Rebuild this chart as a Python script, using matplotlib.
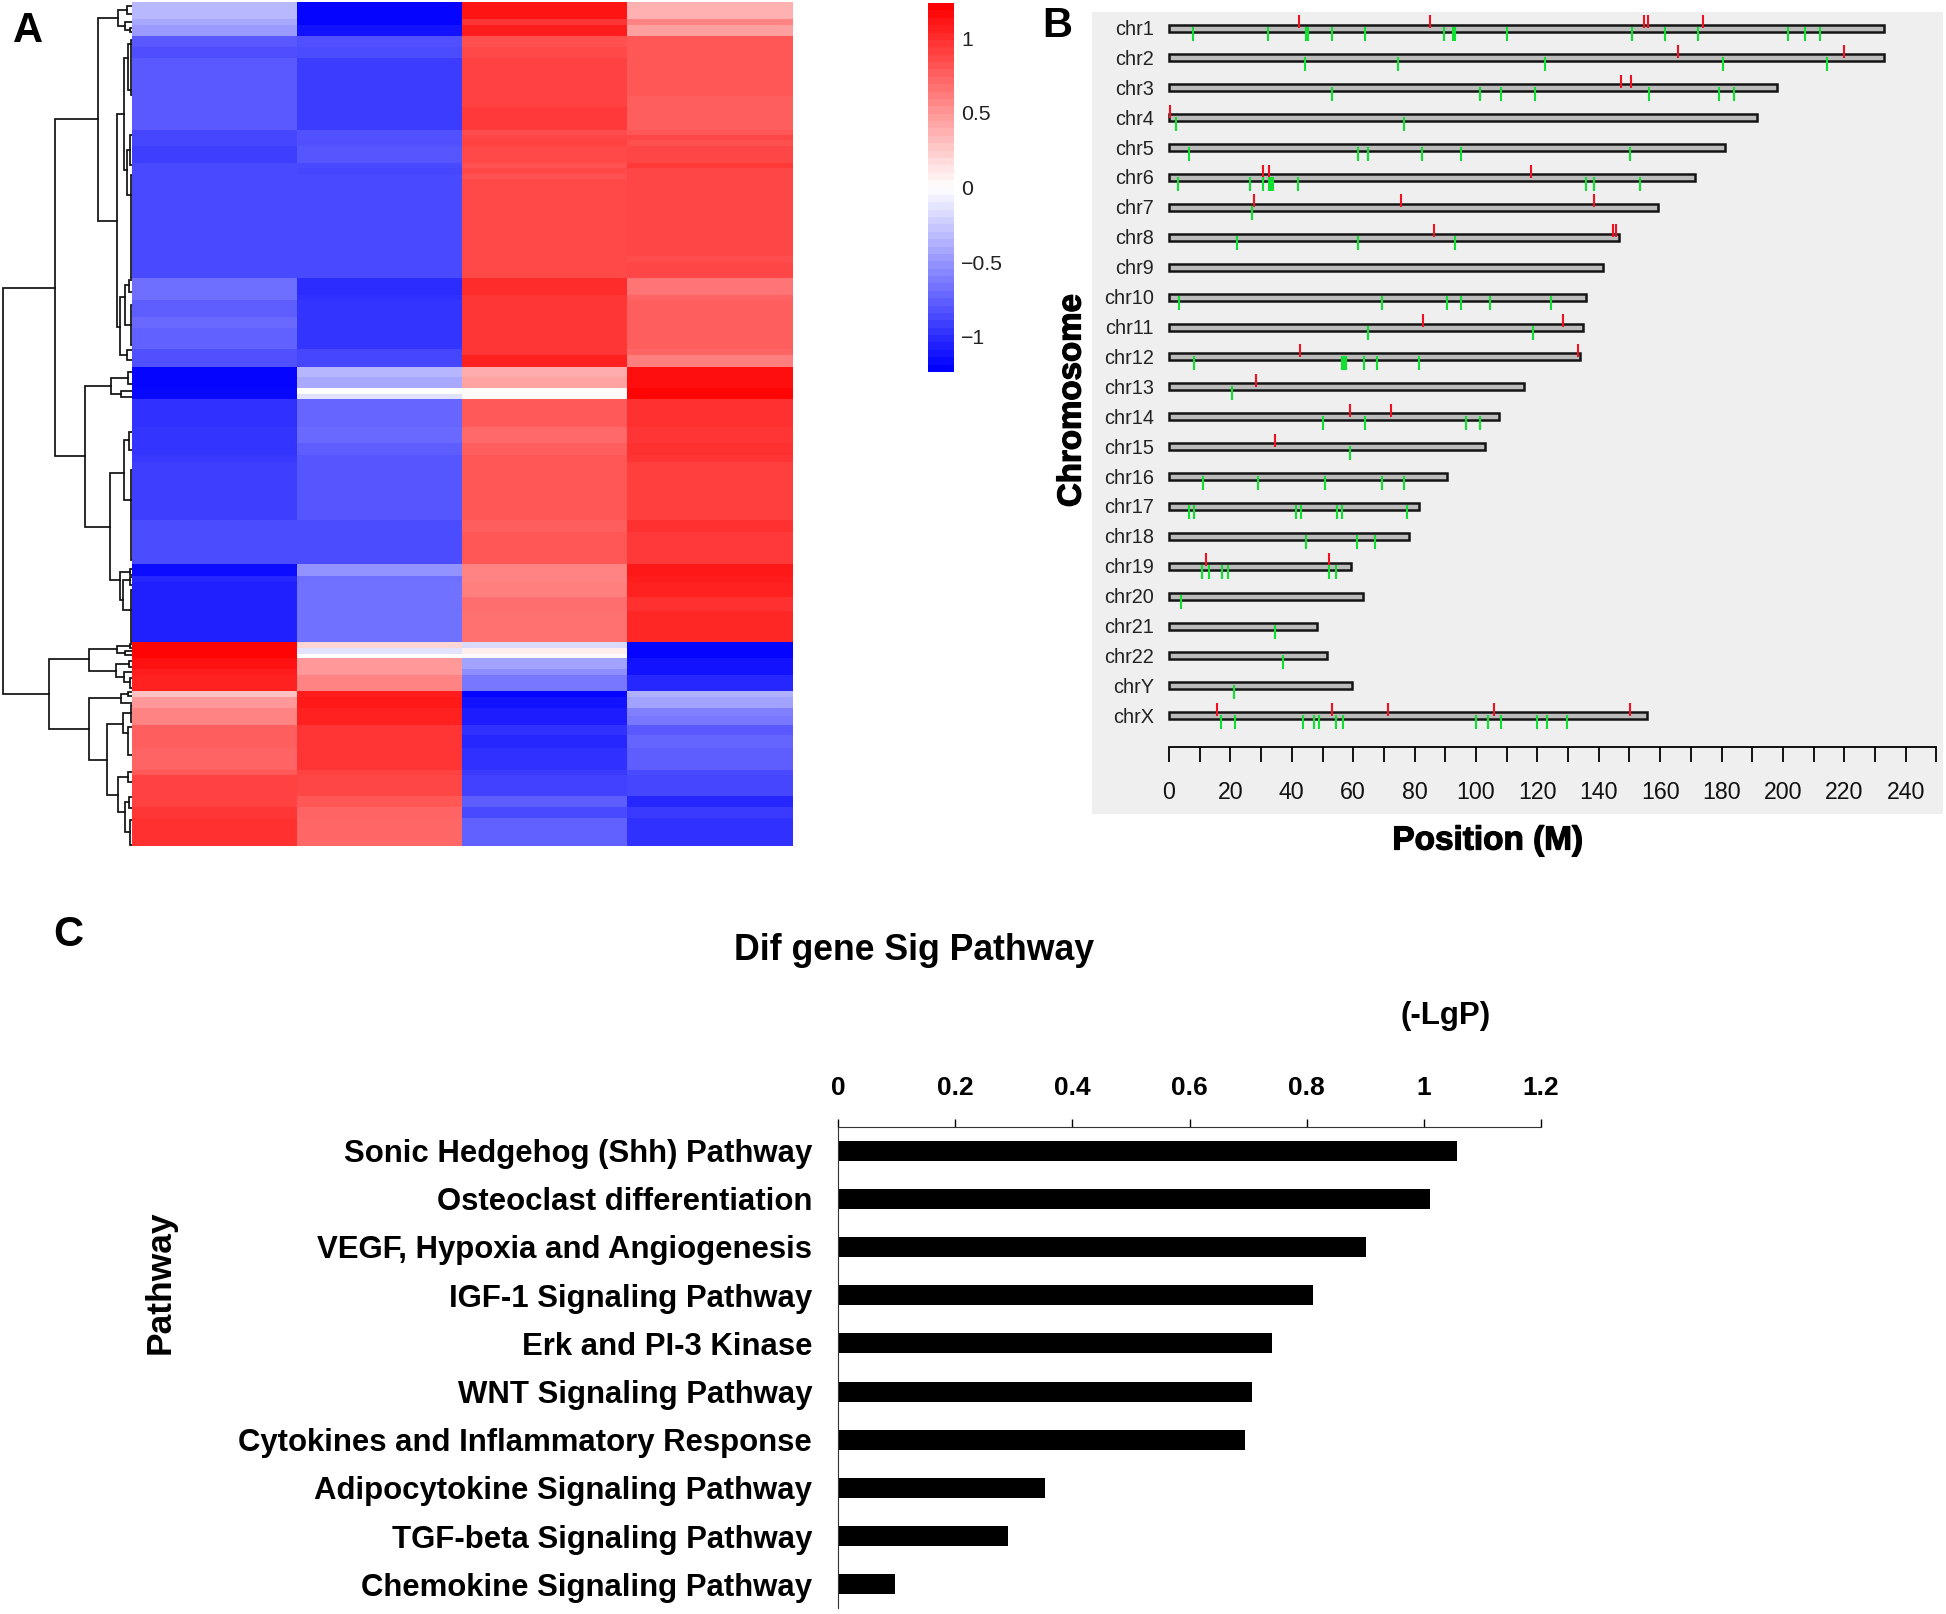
#Heatmap with dendrogram, chromosome map and pathway bars
import numpy as np
import matplotlib
matplotlib.use('Agg')
import matplotlib.pyplot as plt
import matplotlib.patheffects as pe
from matplotlib.colors import LinearSegmentedColormap, Normalize
from matplotlib.cm import ScalarMappable

plt.rcParams['font.family'] = ['Liberation Sans', 'DejaVu Sans']

W, H = 1946, 1614

#Panel A: heatmap blocks, edges on the row scale
row_edges = [2, 19, 25, 36, 47, 58, 96, 107, 130, 135, 140, 146, 157, 163, 168, 174, 179, 256, 262, 278,
             295, 300, 306, 317, 328, 349, 355, 367, 377, 388, 394, 399, 427, 443, 455, 462, 520, 532, 564,
             576, 582, 597, 611, 642, 648, 654, 658, 669, 675, 691, 697, 708, 716, 725, 735, 748, 770, 775,
             796, 807, 818, 846]
col0 = [-.34, -.42, -.49, -.8, -.86, -.8, -.8, -.8, -.9, -.9, -.9, -.93, -.93, -.88, -.88, -.88, -.88, -.88, -.88,
        -.7, -.7, -.78, -.78, -.72, -.76, -.85, -.85, -1.22, -1.22, -1.2, -1.2, -1.0, -.98, -.98, -.96, -.93, -.87, -.87,
        -1.18, -1.05, -1.08, -1.08, -1.08, 1.22, 1.22, 1.22, 1.15, 1.1, 1.08, .3, .5, .6, .6, .78, .78, .75, .8,
        .92, .92, .97, 1.0]
col1 = [-1.22, -1.22, -1.15, -.85, -.87, -.94, -.94, -.94, -.84, -.84, -.85, -.82, -.82, -.88, -.9, -.88, -.88, -.88, -.88,
        -1.02, -1.0, -.98, -.98, -.98, -.98, -.9, -.9, -.35, -.42, 0, -.15, -.74, -.72, -.78, -.82, -.82, -.87, -.87,
        -.52, -.7, -.68, -.68, -.68, .2, -.13, 0, .5, .5, .6, 1.1, 1.12, 1.08, 1.08, .98, .98, .98, .92,
        .9, .82, .75, .74]
col2 = [1.14, .98, 1.1, .85, .88, .92, .92, .95, .87, .9, .92, .88, .88, .84, .88, .84, .88, .88, .88,
        1.02, .97, .97, .97, .97, .97, .97, 1.08, .4, .45, .02, .02, .8, .72, .78, .82, .82, .78, .82,
        .6, .6, .62, .7, .68, -.18, .08, .02, -.45, -.55, -.65, -1.22, -1.15, -1.1, -1.1, -1.0, -1.05, -1.0, -.95,
        -.92, -.78, -.88, -.76]
col3 = [.38, .6, .46, .82, .82, .82, .78, .78, .82, .9, .85, .9, .9, .96, .9, .9, .9, .87, .9,
        .67, .75, .78, .78, .78, .78, .75, .62, 1.17, 1.17, 1.22, 1.22, 1.0, .98, 1.0, .98, .93, 1.0, .95,
        1.12, 1.1, 1.08, 1.0, 1.05, -1.22, -1.22, -1.22, -1.15, -1.15, -1.05, -.38, -.45, -.62, -.65, -.8, -.75, -.78, -.88,
        -.9, -1.05, -.95, -1.0]

#dendrogram merges: parent height, upper child row, its height, lower child row, its height
dend_merges = [(129, 288, 77, 694, 83), (77, 119, 34, 456, 47), (34, 18, 14, 221, 15), (14, 10, 5, 26, 7),
               (5, 6, 0, 14, 0), (7, 22, 0, 30, 2), (2, 28, 0, 32, 0), (15, 114, 8, 327, 12), (8, 58, 4, 170, 5),
               (4, 44, 1, 90, 1), (1, 40, 0, 95, 0), (5, 150, 2, 195, 1), (2, 135, 0, 165, 0), (1, 175, 0, 278, 0),
               (12, 297, 7, 355, 5), (7, 285, 3, 325, 1), (3, 280, 0, 292, 0), (1, 305, 0, 345, 0), (5, 350, 0, 360, 0),
               (47, 386, 21, 527, 22), (21, 378, 4, 394, 11), (4, 372, 0, 384, 0), (11, 391, 0, 397, 0),
               (22, 473, 8, 580, 12), (8, 440, 3, 500, 1), (3, 432, 0, 450, 0), (1, 470, 0, 560, 0),
               (12, 572, 2, 600, 9), (2, 569, 0, 575, 0), (9, 580, 2, 610, 1), (2, 577, 0, 585, 0), (1, 590, 0, 642, 0),
               (83, 659, 43, 729, 43), (43, 649, 15, 671, 16), (15, 646, 2, 653, 7), (2, 644, 0, 648, 0), (7, 651, 0, 655, 0),
               (16, 664, 3, 677, 8), (3, 661, 0, 667, 0), (8, 672, 0, 682, 2), (2, 678, 0, 688, 0),
               (43, 698, 11, 760, 25), (11, 694, 4, 703, 0), (4, 692, 0, 696, 0), (25, 724, 9, 795, 14),
               (9, 713, 1, 733, 4), (1, 705, 0, 722, 0), (4, 727, 0, 755, 0), (14, 777, 4, 812, 7), (4, 772, 0, 782, 0),
               (7, 802, 3, 832, 2), (3, 797, 0, 808, 0), (2, 820, 0, 845, 0)]

cbar_ticks = [-1, -0.5, 0, 0.5, 1]
cbar_labels = ['\u22121', '\u22120.5', '0', '0.5', '1']

#Panel B: chromosomes, lengths and marks in Mb
chrom_names = ['chr1', 'chr2', 'chr3', 'chr4', 'chr5', 'chr6', 'chr7', 'chr8', 'chr9', 'chr10', 'chr11', 'chr12',
               'chr13', 'chr14', 'chr15', 'chr16', 'chr17', 'chr18', 'chr19', 'chr20', 'chr21', 'chr22', 'chrY', 'chrX']
chrom_len = [233, 233, 198, 191.5, 181, 171.3, 159.2, 146.6, 141.5, 135.8, 135, 134,
             115.5, 107.5, 103, 90.7, 81.4, 78.2, 59.3, 63.3, 48.3, 51.5, 59.5, 155.6]
red_marks = [[42.5, 85.1, 154.7, 155.9, 173.8], [165.7, 220], [147.1, 150.5], [0.3], [], [30.5, 32.6, 117.9],
             [27.7, 75.7, 138.5], [86.2, 144.6, 145.7], [], [], [82.7, 128.4], [42.7, 133.3], [28.3], [58.9, 72.4],
             [34.6], [], [], [], [12.2, 52], [], [], [], [], [15.7, 53.2, 71.4, 105.9, 150.2]]
green_marks = [[7.7, 32.1, 44.6, 45.3, 53.2, 64, 89.6, 92.4, 93, 110, 150.7, 161.5, 172.2, 201.7, 207.3, 212],
               [44.3, 74.5, 122.6, 180.5, 214.2], [53.2, 101.4, 108, 119.2, 156.2, 179.2, 184], [2.2, 76.7],
               [6.5, 61.6, 64.9, 82.5, 95.1, 150.2],
               [2.8, 26.3, 30.5, 32.7, 33.3, 34, 41.9, 135.9, 138.5, 153.3], [27.1], [22, 61.5, 93], [],
               [3.3, 69.4, 90.4, 95.1, 104.6, 124.4], [64.7, 118.6], [8, 56.5, 57.1, 57.8, 63.5, 67.6, 81.3], [20.6],
               [50.2, 63.7, 96.7, 101.4], [59.1], [11.1, 28.9, 50.8, 69.4, 76.4],
               [6.5, 8.3, 41.4, 43.1, 54.6, 56.4, 77.5], [44.6, 61.1, 67], [10.9, 13.1, 17.4, 19.2, 52, 54.4], [4],
               [34.4], [37.2], [21.2], [16.8, 21.4, 43.5, 47.2, 48.8, 54.4, 56.8, 99.9, 103.8, 108, 119.8, 123, 129.5]]
pos_ticks = list(range(0, 251, 10))
pos_labels = [str(t) if t % 20 == 0 and t < 250 else '' for t in pos_ticks]

#Panel C: pathways
pathways = ['Sonic Hedgehog (Shh) Pathway', 'Osteoclast differentiation', 'VEGF, Hypoxia and Angiogenesis',
            'IGF-1 Signaling Pathway', 'Erk and PI-3 Kinase', 'WNT Signaling Pathway',
            'Cytokines and Inflammatory Response', 'Adipocytokine Signaling Pathway',
            'TGF-beta Signaling Pathway', 'Chemokine Signaling Pathway']
lgp = [1.056, 1.011, 0.902, 0.811, 0.741, 0.707, 0.694, 0.353, 0.290, 0.098]
lgp_ticks = [0, 0.2, 0.4, 0.6, 0.8, 1, 1.2]
lgp_labels = ['0', '0.2', '0.4', '0.6', '0.8', '1', '1.2']

fig = plt.figure(figsize=(W/100, H/100), dpi=100, facecolor='white')

def ax_px(x0, y0, x1, y1):
    return fig.add_axes([x0/W, 1-y1/H, (x1-x0)/W, (y1-y0)/H])

def text_px(x, y, s, **kw):
    return fig.text(x/W, 1-y/H, s, **kw)

#Panel A
vmax = 1.24
bwr = LinearSegmentedColormap.from_list('bwr2', ['#0000ff', '#ffffff', '#ff0000'], N=256)
sizes = np.diff(row_edges)
matrix = np.repeat(np.array([col0, col1, col2, col3]).T, sizes, axis=0)
ax_heat = ax_px(132, row_edges[0], 793, row_edges[-1])
ax_heat.imshow(matrix, cmap=bwr, vmin=-vmax, vmax=vmax, aspect='auto', interpolation='nearest',
               extent=[0, 4, row_edges[-1], row_edges[0]])
ax_heat.axis('off')

ax_dend = ax_px(0, row_edges[0], 132, row_edges[-1])
ax_dend.set_xlim(132, 0)
ax_dend.set_ylim(row_edges[-1], row_edges[0])
for h, y1, h1, y2, h2 in dend_merges:
    ax_dend.plot([h1, h, h, h2], [y1, y1, y2, y2], color='#111111', lw=1.25, solid_joinstyle='miter')
ax_dend.axis('off')

cax = ax_px(928, 3, 954, 372)
cmap_steps = LinearSegmentedColormap.from_list('bwr3', ['#0000ff', '#ffffff', '#ff0000'], N=50)
cb = fig.colorbar(ScalarMappable(norm=Normalize(-1.237, 1.237), cmap=cmap_steps), cax=cax)
cb.outline.set_visible(False)
cb.set_ticks(cbar_ticks, labels=cbar_labels)
cb.ax.tick_params(length=0, pad=5, labelsize=15.3, labelcolor='#222222')

#Panel B
sp = 29.9
ax_chr = ax_px(1092, 12, 1943, 814)
ax_chr.set_facecolor('#efefef')
ax_chr.set_xlim((1092-1169)/3.07, (1943-1169)/3.07)
ax_chr.set_ylim((814-28)/sp, (12-28)/sp)
ypos = np.arange(len(chrom_names))
ax_chr.barh(ypos, chrom_len, height=7/sp, left=0, facecolor='#bcbcbc', edgecolor='#141414', linewidth=1.8, zorder=2)
for i, name in enumerate(chrom_names):
    ax_chr.text(-5, i+1.5/sp, name, ha='right', va='center', fontsize=14.3, color='#222222')
    ax_chr.vlines(red_marks[i], i-13/sp, i, color='#f01020', lw=1.5, zorder=3)
    ax_chr.vlines(green_marks[i], i-1/sp, i+13/sp, color='#10e030', lw=1.5, zorder=3)
for s in ['top', 'left', 'right']:
    ax_chr.spines[s].set_visible(False)
ax_chr.spines['bottom'].set_position(('data', (747-28)/sp))
ax_chr.spines['bottom'].set_bounds(0, 250)
ax_chr.spines['bottom'].set_linewidth(1.3)
ax_chr.set_xticks(pos_ticks, labels=pos_labels)
ax_chr.tick_params(axis='x', length=11, width=1.3, pad=13.8, labelsize=16.7, labelcolor='#111111')
ax_chr.set_yticks([])

heavy = [pe.withStroke(linewidth=0.9, foreground='black')]
text_px(1072, 401, 'Chromosome', rotation=90, ha='center', va='center', fontsize=23.8, fontweight='bold', path_effects=heavy)
text_px(1488, 841, 'Position (M)', ha='center', va='center', fontsize=24, fontweight='bold', path_effects=heavy)

#Panel C
sp_c = 48.2
ax_bar = ax_px(838, 1127, 1541, 1608)
ax_bar.barh(np.arange(len(pathways)), lgp, height=20/sp_c, color='black')
ax_bar.set_xlim(0, 1.2)
ax_bar.set_ylim((1608-1150.5)/sp_c, (1127-1150.5)/sp_c)
ax_bar.xaxis.tick_top()
ax_bar.set_xticks(lgp_ticks, labels=lgp_labels)
ax_bar.set_yticks(np.arange(len(pathways)), labels=pathways)
ax_bar.tick_params(axis='x', length=5.8, width=1, pad=13.5, labelsize=19)
ax_bar.tick_params(axis='y', length=0, pad=18.7, labelsize=22.4)
for lab in ax_bar.get_xticklabels() + ax_bar.get_yticklabels():
    lab.set_fontweight('bold')
ax_bar.spines['right'].set_visible(False)
ax_bar.spines['bottom'].set_visible(False)
ax_bar.spines['top'].set_color('#333333')
ax_bar.spines['left'].set_color('#333333')

text_px(914, 951, 'Dif gene Sig Pathway', ha='center', va='center', fontsize=25.7, fontweight='bold')
text_px(1446, 1016, '(-LgP)', ha='center', va='center', fontsize=22.5, fontweight='bold')
text_px(160, 1282, 'Pathway', rotation=90, ha='center', va='center', fontsize=25.5, fontweight='bold')

#Panel letters
text_px(28, 31, 'A', ha='center', va='center', fontsize=30, fontweight='bold')
text_px(1057, 26, 'B', ha='center', va='center', fontsize=30, fontweight='bold')
text_px(68, 935, 'C', ha='center', va='center', fontsize=30, fontweight='bold')

fig.savefig('out.png', dpi=100)
